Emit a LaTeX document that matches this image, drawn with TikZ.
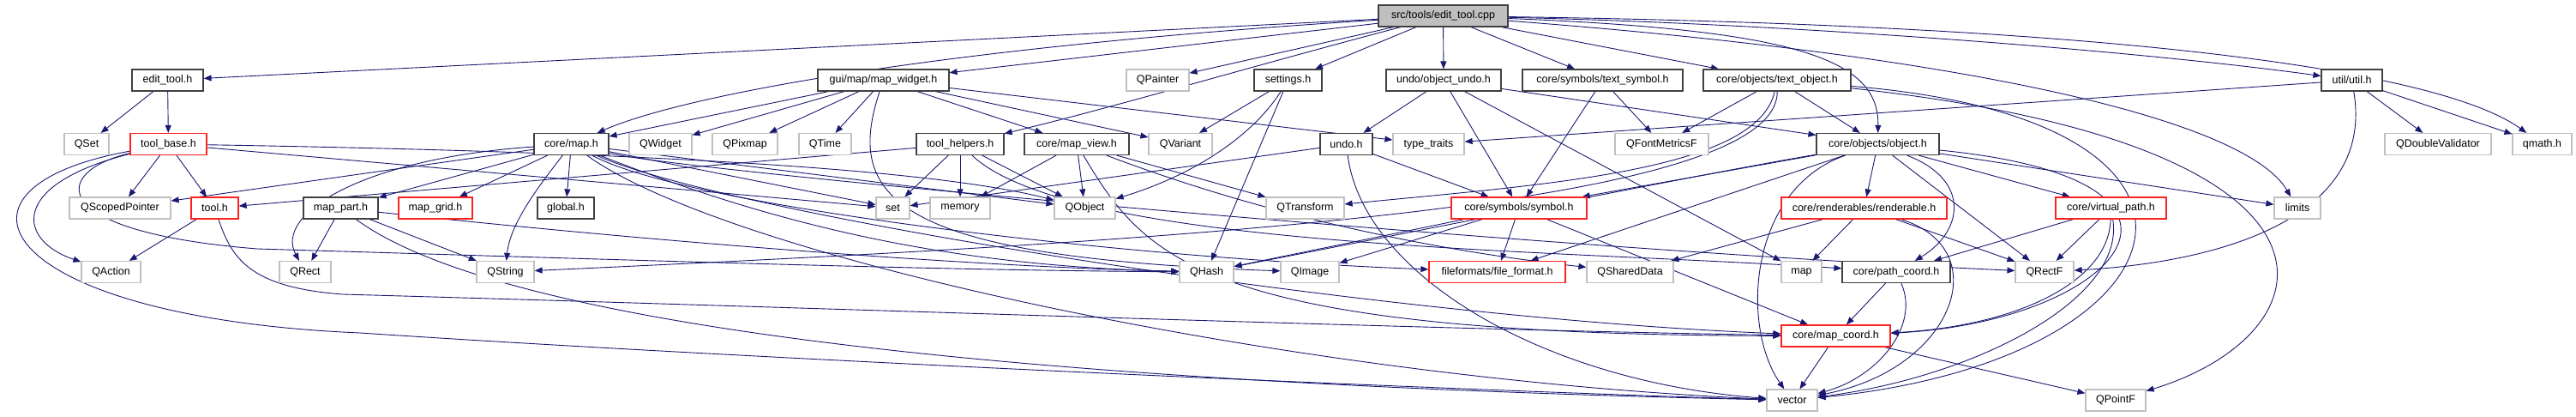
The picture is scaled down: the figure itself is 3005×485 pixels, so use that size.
\documentclass[tikz,border=0pt]{standalone}
\usepackage{fontspec}
\setmainfont{Liberation Sans}
\usetikzlibrary{arrows.meta}
\definecolor{edgec}{HTML}{191970}
\definecolor{grayb}{HTML}{BFBFBF}
\definecolor{blackb}{HTML}{404040}
\definecolor{redb}{HTML}{FF2020}
\pgfdeclarelayer{edgelayer}
\pgfsetlayers{edgelayer,main}
\begin{document}
\begin{tikzpicture}[x=1pt,y=-1pt,
  base/.style={rectangle, minimum height=25pt, inner xsep=0pt, inner ysep=0pt,
    font=\fontsize{12.5}{14}\selectfont, line width=1.2pt, fill=white},
  blknode/.style={base, draw=blackb},
  grynode/.style={base, draw=grayb},
  rednode/.style={base, draw=redb},
  rootnode/.style={base, draw=blackb, fill=grayb},
  dep/.style={draw=edgec, line width=0.9pt, -{Triangle[length=9pt,width=7pt]}}]
\useasboundingbox (0,0) rectangle (3005,485);
% row 0
\node[rootnode, minimum width=151pt] (cpp) at (1683.5,18.5) {src/tools/edit\_tool.cpp};
% row 1
\node[blknode, minimum width=83pt] (edittoolh) at (195.5,93.5) {edit\_tool.h};
\node[blknode, minimum width=153pt] (mapwidget) at (1030.5,93.5) {gui/map/map\_widget.h};
\node[grynode, minimum width=73pt] (qpainter) at (1350.5,93.5) {QPainter};
\node[blknode, minimum width=79pt] (settings) at (1502.5,93.5) {settings.h};
\node[blknode, minimum width=134pt] (objundo) at (1684,93.5) {undo/object\_undo.h};
\node[blknode, minimum width=187pt] (textsym) at (1869.5,93.5) {core/symbols/text\_symbol.h};
\node[blknode, minimum width=172pt] (textobj) at (2073,93.5) {core/objects/text\_object.h};
\node[blknode, minimum width=71pt] (util) at (2743.5,93.5) {util/util.h};
% row 2
\node[grynode, minimum width=52pt] (qset) at (101,168) {QSet};
\node[rednode, minimum width=89pt] (toolbase) at (196.5,168) {tool\_base.h};
\node[blknode, minimum width=87pt] (maph) at (666.5,168) {core/map.h};
\node[grynode, minimum width=73pt] (qwidget) at (770.5,168) {QWidget};
\node[grynode, minimum width=76pt] (qpixmap) at (869,168) {QPixmap};
\node[grynode, minimum width=61pt] (qtime) at (962.5,168) {QTime};
\node[blknode, minimum width=102pt] (toolhelpers) at (1120,168) {tool\_helpers.h};
\node[blknode, minimum width=122pt] (mapview) at (1256,168) {core/map\_view.h};
\node[grynode, minimum width=74pt] (qvariant) at (1377,168) {QVariant};
\node[blknode, minimum width=61pt] (undoh) at (1570.5,168) {undo.h};
\node[grynode, minimum width=83pt] (typetraits) at (1666.5,168) {type\_traits};
\node[grynode, minimum width=109pt] (qfm) at (1938.5,168) {QFontMetricsF};
\node[blknode, minimum width=143pt] (object) at (2190.5,168) {core/objects/object.h};
\node[grynode, minimum width=124pt] (qdv) at (2844,168) {QDoubleValidator};
\node[grynode, minimum width=69pt] (qmath) at (2965.5,168) {qmath.h};
% row 3
\node[grynode, minimum width=118pt] (qscoped) at (140,242.5) {QScopedPointer};
\node[rednode, minimum width=55pt] (toolh) at (250.5,242.5) {tool.h};
\node[blknode, minimum width=87pt] (mappart) at (397.5,242.5) {map\_part.h};
\node[rednode, minimum width=86pt] (mapgrid) at (508,242.5) {map\_grid.h};
\node[blknode, minimum width=66pt] (global) at (660,242.5) {global.h};
\node[grynode, minimum width=39pt] (set) at (1041.5,242.5) {set};
\node[grynode, minimum width=70pt] (memory) at (1120,242.5) {memory};
\node[grynode, minimum width=71pt] (qobject) at (1265.5,242.5) {QObject};
\node[grynode, minimum width=91pt] (qtransform) at (1522.5,242.5) {QTransform};
\node[rednode, minimum width=158pt] (symbol) at (1772,242.5) {core/symbols/symbol.h};
\node[rednode, minimum width=193pt] (renderable) at (2174.5,242.5) {core/renderables/renderable.h};
\node[rednode, minimum width=129pt] (virtualpath) at (2462.5,242.5) {core/virtual\_path.h};
\node[grynode, minimum width=54pt] (limits) at (2680,242.5) {limits};
% row 4
\node[grynode, minimum width=69pt] (qaction) at (129.5,317) {QAction};
\node[grynode, minimum width=60pt] (qrect) at (356,317) {QRect};
\node[grynode, minimum width=67pt] (qstring) at (589.5,317) {QString};
\node[grynode, minimum width=63pt] (qhash) at (1407.5,317) {QHash};
\node[grynode, minimum width=68pt] (qimage) at (1528,317) {QImage};
\node[rednode, minimum width=159pt] (fileformat) at (1746.5,317) {fileformats/file\_format.h};
\node[grynode, minimum width=101pt] (qshared) at (1901.5,317) {QSharedData};
\node[grynode, minimum width=47pt] (mapn) at (2101.5,317) {map};
\node[blknode, minimum width=126pt] (pathcoord) at (2212,317) {core/path\_coord.h};
\node[grynode, minimum width=68pt] (qrectf) at (2385,317) {QRectF};
% row 5
\node[rednode, minimum width=127pt] (mapcoord) at (2141.5,391.5) {core/map\_coord.h};
% row 6
\node[grynode, minimum width=59pt] (vector) at (2090.5,466.5) {vector};
\node[grynode, minimum width=70pt] (qpointf) at (2468,466.5) {QPointF};

\begin{pgfonlayer}{edgelayer}
% edges from src/tools/edit_tool.cpp
\draw[dep] (cpp) -- (edittoolh);
\draw[dep] (cpp) .. controls (1100,55) and (800,110) .. (maph);
\draw[dep] (cpp) -- (mapwidget);
\draw[dep] (cpp) -- (qpainter);
\draw[dep] (cpp) .. controls (1450,80) and (1300,125) .. (toolhelpers);
\draw[dep] (cpp) -- (settings);
\draw[dep] (cpp) -- (objundo);
\draw[dep] (cpp) -- (textsym);
\draw[dep] (cpp) -- (textobj);
\draw[dep] (cpp) .. controls (2100,35) and (2192,70) .. (object);
\draw[dep] (cpp) .. controls (2100,28) and (2500,60) .. (util);
\draw[dep] (cpp) .. controls (2500,30) and (2850,85) .. (qmath);
\draw[dep] (cpp) .. controls (2300,65) and (2620,140) .. (limits);
% edit_tool.h
\draw[dep] (edittoolh) -- (qset);
\draw[dep] (edittoolh) -- (toolbase);
% tool_base.h
\draw[dep] (toolbase) -- (qscoped);
\draw[dep] (toolbase) -- (toolh);
\draw[dep] (toolbase) .. controls (10,215) and (20,280) .. (qaction);
\draw[dep] (toolbase) .. controls (-90,220) and (0,370) .. (420,388) .. controls (900,420) and (1700,455) .. (vector);
\draw[dep] (toolbase) .. controls (60,200) and (50,270) .. (300,290) .. controls (800,305) and (1100,315) .. (qhash);
\draw[dep] (toolbase) -- (set);
\draw[dep] (toolbase) .. controls (800,178) and (1100,200) .. (qobject);
% tool.h
\draw[dep] (toolh) -- (qaction);
\draw[dep] (toolh) .. controls (270,300) and (290,335) .. (400,343) .. controls (1000,360) and (1700,385) .. (mapcoord);
% map_widget.h
\draw[dep] (mapwidget) -- (maph);
\draw[dep] (mapwidget) -- (qwidget);
\draw[dep] (mapwidget) -- (qpixmap);
\draw[dep] (mapwidget) -- (qtime);
\draw[dep] (mapwidget) -- (mapview);
\draw[dep] (mapwidget) -- (qvariant);
\draw[dep] (mapwidget) -- (typetraits);
\draw[dep] (mapwidget) .. controls (985,230) and (1040,300) .. (qimage);
% core/map.h
\draw[dep] (maph) -- (mappart);
\draw[dep] (maph) -- (mapgrid);
\draw[dep] (maph) -- (global);
\draw[dep] (maph) .. controls (630,215) and (595,260) .. (qstring);
\draw[dep] (maph) .. controls (420,185) and (320,250) .. (qrect);
\draw[dep] (maph) -- (qscoped);
\draw[dep] (maph) -- (set);
\draw[dep] (maph) -- (qobject);
\draw[dep] (maph) .. controls (900,260) and (1100,310) .. (qhash);
\draw[dep] (maph) .. controls (850,300) and (1500,440) .. (vector);
\draw[dep] (maph) .. controls (850,250) and (1600,370) .. (mapcoord);
\draw[dep] (maph) .. controls (800,240) and (1300,300) .. (fileformat);
\draw[dep] (maph) .. controls (800,200) and (1800,290) .. (qrectf);
% map_part.h
\draw[dep] (mappart) -- (qrect);
\draw[dep] (mappart) -- (qstring);
\draw[dep] (mappart) .. controls (530,340) and (900,440) .. (vector);
\draw[dep] (mappart) .. controls (700,275) and (1100,310) .. (qhash);
% tool_helpers.h
\draw[dep] (toolhelpers) -- (toolh);
\draw[dep] (toolhelpers) -- (set);
\draw[dep] (toolhelpers) -- (memory);
\draw[dep] (toolhelpers) -- (qobject);
\draw[dep] (toolhelpers) .. controls (1250,290) and (1800,290) .. (pathcoord);
% core/map_view.h
\draw[dep] (mapview) -- (qobject);
\draw[dep] (mapview) -- (memory);
\draw[dep] (mapview) -- (qtransform);
\draw[dep] (mapview) .. controls (1335,300) and (1400,390) .. (mapcoord);
\draw[dep] (mapview) .. controls (1500,260) and (1700,295) .. (qshared);
% settings.h
\draw[dep] (settings) -- (qvariant);
\draw[dep] (settings) .. controls (1460,160) and (1390,205) .. (qobject);
\draw[dep] (settings) -- (qhash);
% undo/object_undo.h
\draw[dep] (objundo) -- (undoh);
\draw[dep] (objundo) -- (symbol);
\draw[dep] (objundo) -- (mapn);
\draw[dep] (objundo) -- (object);
% core/symbols/text_symbol.h
\draw[dep] (textsym) -- (symbol);
\draw[dep] (textsym) -- (qfm);
% undo.h
\draw[dep] (undoh) -- (set);
\draw[dep] (undoh) -- (symbol);
\draw[dep] (undoh) .. controls (1590,320) and (1800,445) .. (vector);
% core/objects/text_object.h
\draw[dep] (textobj) -- (qfm);
\draw[dep] (textobj) -- (object);
\draw[dep] (textobj) .. controls (2050,200) and (1800,215) .. (qtransform);
\draw[dep] (textobj) .. controls (2075,240) and (1400,280) .. (qstring);
\draw[dep] (textobj) .. controls (2650,140) and (2560,420) .. (vector);
\draw[dep] (textobj) .. controls (2780,170) and (2720,390) .. (qpointf);
% core/symbols/symbol.h
\draw[dep] (symbol) -- (fileformat);
\draw[dep] (symbol) -- (qhash);
\draw[dep] (symbol) -- (qimage);
\draw[dep] (symbol) -- (mapcoord);
% core/objects/object.h
\draw[dep] (object) -- (renderable);
\draw[dep] (object) -- (virtualpath);
\draw[dep] (object) -- (limits);
\draw[dep] (object) -- (qrectf);
\draw[dep] (object) .. controls (2300,210) and (2290,270) .. (pathcoord);
\draw[dep] (object) .. controls (2620,210) and (2470,375) .. (mapcoord);
\draw[dep] (object) .. controls (2040,220) and (2030,380) .. (vector);
\draw[dep] (object) -- (symbol);
\draw[dep] (object) .. controls (2000,200) and (1650,270) .. (qhash);
\draw[dep] (object) -- (fileformat);
% core/renderables/renderable.h
\draw[dep] (renderable) -- (qshared);
\draw[dep] (renderable) -- (mapn);
\draw[dep] (renderable) -- (qrectf);
\draw[dep] (renderable) .. controls (2330,290) and (2280,430) .. (vector);
% core/path_coord.h
\draw[dep] (pathcoord) -- (mapcoord);
\draw[dep] (pathcoord) .. controls (2240,380) and (2190,440) .. (vector);
% core/virtual_path.h
\draw[dep] (virtualpath) -- (pathcoord);
\draw[dep] (virtualpath) -- (qrectf);
\draw[dep] (virtualpath) .. controls (2460,330) and (2350,380) .. (mapcoord);
\draw[dep] (virtualpath) .. controls (2480,350) and (2300,440) .. (vector);
% core/map_coord.h
\draw[dep] (mapcoord) -- (vector);
\draw[dep] (mapcoord) -- (qpointf);
% util/util.h
\draw[dep] (util) -- (typetraits);
\draw[dep] (util) -- (qdv);
\draw[dep] (util) -- (qmath);
\draw[dep] (util) .. controls (2770,250) and (2600,305) .. (qrectf);
\end{pgfonlayer}
\end{tikzpicture}
\end{document}
